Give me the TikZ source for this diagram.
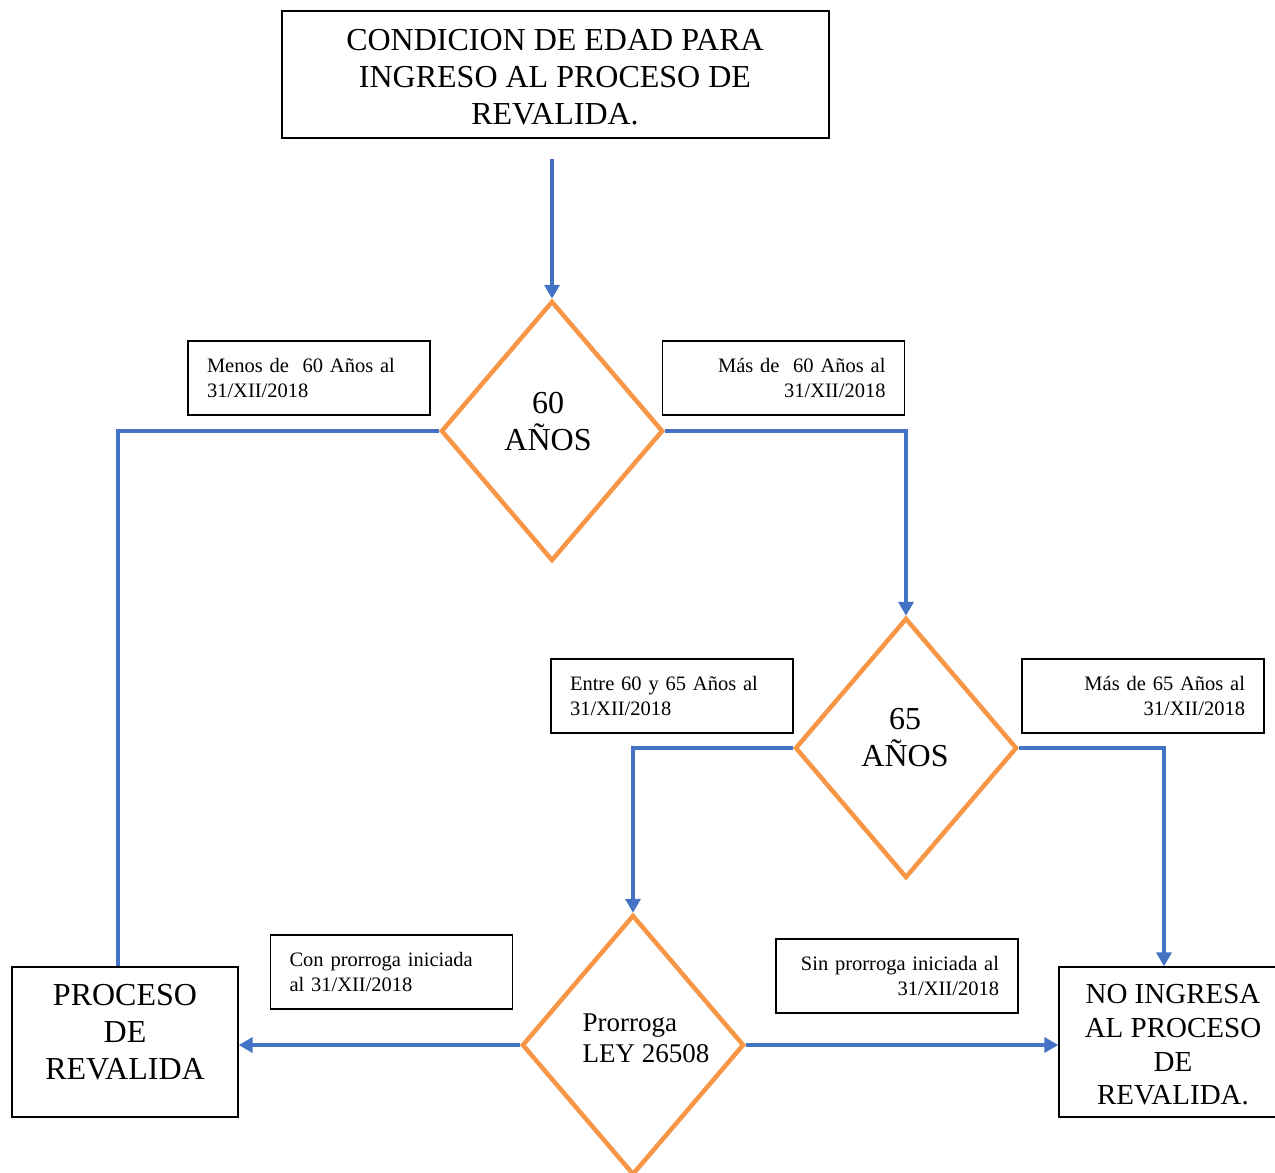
\documentclass[tikz,border=0pt]{standalone}
\usepackage{fontspec}
\setmainfont{Liberation Serif}
\usetikzlibrary{shapes.geometric,arrows.meta}
\definecolor{flowblue}{HTML}{4472C4}
\definecolor{floworange}{HTML}{F79646}
\begin{document}
\begin{tikzpicture}[x=1pt,y=-1pt,
  framebox/.style={draw=black,line width=1.3pt,rectangle,inner sep=0pt},
  decision/.style={draw=floworange,line width=4.5pt,diamond,minimum width=222pt,minimum height=260pt,inner sep=0pt},
  labelbox/.style={draw=black,line width=1.2pt,rectangle,minimum width=242pt,minimum height=74pt,inner xsep=19pt,inner ysep=0pt,text width=204pt,font=\fontsize{20.5pt}{25pt}\selectfont},
  conn/.style={draw=flowblue,line width=4pt},
  arr/.style={conn,-{Triangle[width=15pt,length=14pt]}},
  bigtext/.style={font=\fontsize{32pt}{37pt}\selectfont,align=center,inner sep=0pt},
  midtext/.style={font=\fontsize{29pt}{33.7pt}\selectfont,align=center,inner sep=0pt},
  dtext/.style={font=\fontsize{27pt}{31pt}\selectfont,align=left,inner sep=0pt}
]
\useasboundingbox (0,0) rectangle (1275,1173);
\fill[white] (0,0) rectangle (1275,1173);

% main boxes
\node[framebox,minimum width=547pt,minimum height=127pt] (title) at (555.5,74.5) {};
\node[bigtext] (titletext) at (555,77) {CONDICION DE EDAD PARA\\INGRESO AL PROCESO DE\\REVALIDA.};

\node[framebox,minimum width=226pt,minimum height=150pt] (proc) at (125,1042) {};
\node[bigtext] (proctext) at (125,1032) {PROCESO\\DE\\REVALIDA};

\node[framebox,minimum width=228pt,minimum height=150pt] (noing) at (1173,1042) {};
\node[midtext] (noingtext) at (1173,1045) {NO INGRESA\\AL PROCESO\\DE\\REVALIDA.};

% decisions
\node[decision] (d1) at (552,431) {};
\node[bigtext] (d1text) at (548,422) {60\\AÑOS};
\node[decision] (d2) at (906,748) {};
\node[bigtext] (d2text) at (905,738) {65\\AÑOS};
\node[decision] (d3) at (633,1045) {};
\node[dtext] (d3text) at (646,1038) {Prorroga\\LEY 26508};

% label boxes
\node[labelbox,align=left] (lab1) at (309,378) {Menos de\ \ 60 Años al\\31/XII/2018};
\node[labelbox,align=right] (lab2) at (783.5,378) {Más de\ \ 60 Años al\\31/XII/2018};
\node[labelbox,align=left] (lab3) at (672,696) {Entre 60 y 65 Años al\\31/XII/2018};
\node[labelbox,align=right] (lab4) at (1143,696) {Más de 65 Años al\\31/XII/2018};
\node[labelbox,align=left] (lab5) at (391.5,972) {Con prorroga iniciada\\al 31/XII/2018};
\node[labelbox,align=right] (lab6) at (897,976) {Sin prorroga iniciada al\\31/XII/2018};

% connectors
\draw[arr] ([yshift=-20pt]title.south -| d1.north) -- (d1.north);
\draw[conn] (d1.west) -| ([xshift=-7pt]proc.north);
\draw[arr] (d1.east) -| (d2.north);
\draw[arr] (d2.west) -| (d3.north);
\draw[arr] (d2.east) -| ([xshift=-9pt]noing.north);
\draw[arr] (d3.west) -- (d3.west -| proc.east);
\draw[arr] (d3.east) -- (d3.east -| noing.west);
\end{tikzpicture}
\end{document}
